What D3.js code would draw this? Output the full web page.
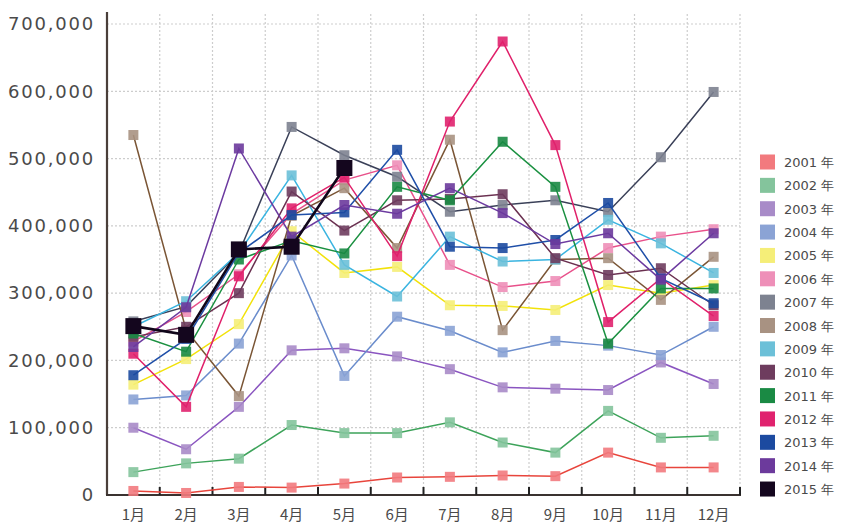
<!DOCTYPE html>
<html>
<head>
<meta charset="utf-8">
<script src="https://cdn.jsdelivr.net/npm/d3@7"></script>
<style>
  body { margin: 0; background: #fff; }
  svg { display: block; }
</style>
</head>
<body>
<div id="chart"></div>
<script>
const months = ["1月","2月","3月","4月","5月","6月","7月","8月","9月","10月","11月","12月"];
const years = ["2001","2002","2003","2004","2005","2006","2007","2008","2009","2010","2011","2012","2013","2014","2015"];
const yTicks = [0, 100000, 200000, 300000, 400000, 500000, 600000, 700000];

// monthly values per year (2015 stops at 5月)
const v2001 = [6000, 3000, 12000, 11000, 17000, 26000, 27000, 29000, 28000, 63000, 41000, 41000];
const v2002 = [34000, 47000, 54000, 104000, 92000, 92000, 108000, 78000, 63000, 125000, 85000, 88000];
const v2003 = [100000, 68000, 131000, 215000, 218000, 206000, 187000, 160000, 158000, 156000, 197000, 165000];
const v2004 = [142000, 148000, 225000, 356000, 177000, 265000, 244000, 212000, 229000, 222000, 208000, 250000];
const v2005 = [164000, 202000, 254000, 392000, 330000, 339000, 282000, 281000, 275000, 312000, 300000, 312000];
const v2006 = [228000, 272000, 328000, 418000, 468000, 490000, 342000, 309000, 318000, 367000, 384000, 395000];
const v2007 = [258000, 280000, 360000, 547000, 505000, 473000, 421000, 431000, 438000, 421000, 502000, 599000];
const v2008 = [535000, 245000, 147000, 415000, 456000, 367000, 528000, 245000, 350000, 352000, 290000, 354000];
const v2009 = [250000, 288000, 360000, 475000, 342000, 295000, 384000, 347000, 350000, 409000, 374000, 330000];
const v2010 = [235000, 250000, 300000, 451000, 393000, 438000, 440000, 447000, 352000, 327000, 337000, 282000];
const v2011 = [240000, 213000, 350000, 378000, 359000, 458000, 438000, 525000, 458000, 225000, 307000, 307000];
const v2012 = [210000, 131000, 325000, 426000, 472000, 355000, 555000, 674000, 520000, 257000, 322000, 266000];
const v2013 = [178000, 232000, 360000, 416000, 420000, 513000, 369000, 367000, 379000, 434000, 322000, 285000];
const v2014 = [220000, 279000, 515000, 384000, 431000, 418000, 456000, 419000, 373000, 389000, 320000, 389000];
const v2015 = [251000, 238000, 365000, 369000, 486000];

const seriesValues = [v2001, v2002, v2003, v2004, v2005, v2006, v2007, v2008, v2009, v2010, v2011, v2012, v2013, v2014, v2015];

const markerColors = ["#f27a7e","#84c49c","#a88bc8","#8ba3d5","#f5ee78","#ee8fb8","#7d8290","#a89282","#6cc0d8","#6e3c5e","#1a8a44","#e0226e","#1c4aa0","#6c3a9c","#14061e"];
const lineColors = ["#e8453c","#3da35a","#8a55c0","#6a8ccc","#f2e20a","#e8508a","#3a4058","#7a5535","#3ab4e0","#6a3050","#1a9040","#e0206a","#1f4fa8","#6c3aa0","#10061a"];

const width = 841, height = 526;
const plotLeft = 107, plotRight = 740, plotTop = 24, plotBottom = 495;

const svg = d3.select("#chart").append("svg")
    .attr("width", width)
    .attr("height", height);

const x = d3.scaleBand().domain(months).range([plotLeft, plotRight]).padding(0);
const y = d3.scaleLinear().domain([0, 700000]).range([plotBottom, plotTop]);
const cx = m => x(m) + x.bandwidth() / 2;

// grid
const grid = svg.append("g");
grid.selectAll(".hgrid")
    .data(yTicks.slice(1))
    .enter().append("line")
    .attr("x1", plotLeft).attr("x2", plotRight)
    .attr("y1", d => y(d)).attr("y2", d => y(d))
    .style("stroke", "#cdcdcd")
    .style("stroke-width", 1.2)
    .style("stroke-dasharray", "2,2");

const bounds = months.slice(1).map(m => x(m)).concat([plotRight]);
grid.selectAll(".vgrid")
    .data(bounds)
    .enter().append("line")
    .attr("x1", d => d).attr("x2", d => d)
    .attr("y1", 14).attr("y2", plotBottom)
    .style("stroke", "#cdcdcd")
    .style("stroke-width", 1.2)
    .style("stroke-dasharray", "2,2");

// y labels
const yAxis = svg.append("g")
    .attr("transform", `translate(${plotLeft - 12},0)`)
    .call(d3.axisLeft(y).tickValues(yTicks).tickFormat(d3.format(",")).tickSize(0));
yAxis.select(".domain").remove();
yAxis.selectAll("text")
    .attr("x", 0)
    .style("font-family", "DejaVu Sans, sans-serif")
    .style("font-size", "18px")
    .style("letter-spacing", "1.8px")
    .style("fill", "#4a4a4a");

// x labels
svg.append("g").selectAll("text")
    .data(months)
    .enter().append("text")
    .attr("x", d => cx(d))
    .attr("y", 520)
    .attr("text-anchor", "middle")
    .style("font-family", "Noto Sans CJK JP, sans-serif")
    .style("font-size", "15px")
    .style("fill", "#4a4a4a")
    .text(d => d);

// axes lines
svg.append("line")
    .attr("x1", plotLeft).attr("x2", plotLeft)
    .attr("y1", 12).attr("y2", plotBottom)
    .style("stroke", "#4a3f3a").style("stroke-width", 2.2);
svg.append("line")
    .attr("x1", plotLeft - 1).attr("x2", plotRight + 1)
    .attr("y1", plotBottom).attr("y2", plotBottom)
    .style("stroke", "#3a3230").style("stroke-width", 2.2);
svg.append("g").selectAll("line")
    .data(bounds)
    .enter().append("line")
    .attr("x1", d => d).attr("x2", d => d)
    .attr("y1", plotBottom).attr("y2", plotBottom - 8)
    .style("stroke", "#222").style("stroke-width", 2);

// series
const line = d3.line()
    .x((d, i) => cx(months[i]))
    .y(d => y(d));

years.forEach((yr, k) => {
    const vals = seriesValues[k];
    const g = svg.append("g").attr("class", "series-" + yr);
    const isLast = k === years.length - 1;
    g.append("path")
        .datum(vals)
        .attr("d", line)
        .style("fill", "none")
        .style("stroke", lineColors[k])
        .style("stroke-width", isLast ? 2.6 : 1.5);
    const s = isLast ? 16 : 10;
    g.selectAll("rect")
        .data(vals)
        .enter().append("rect")
        .attr("x", (d, i) => cx(months[i]) - s / 2)
        .attr("y", d => y(d) - s / 2)
        .attr("width", s)
        .attr("height", s)
        .style("fill", markerColors[k])
        .style("opacity", isLast ? 1 : 0.9);
});

// legend
const legend = svg.append("g");
years.forEach((yr, k) => {
    const ly = 162 + k * 23.36;
    legend.append("rect")
        .attr("x", 760).attr("y", ly - 7.5)
        .attr("width", 15).attr("height", 15)
        .style("fill", markerColors[k]);
    legend.append("text")
        .attr("x", 784).attr("y", ly + 5)
        .style("font-family", "DejaVu Sans, sans-serif")
        .style("font-size", "13px")
        .style("fill", "#4a4a4a")
        .text(yr + " 年");
});
</script>
</body>
</html>
